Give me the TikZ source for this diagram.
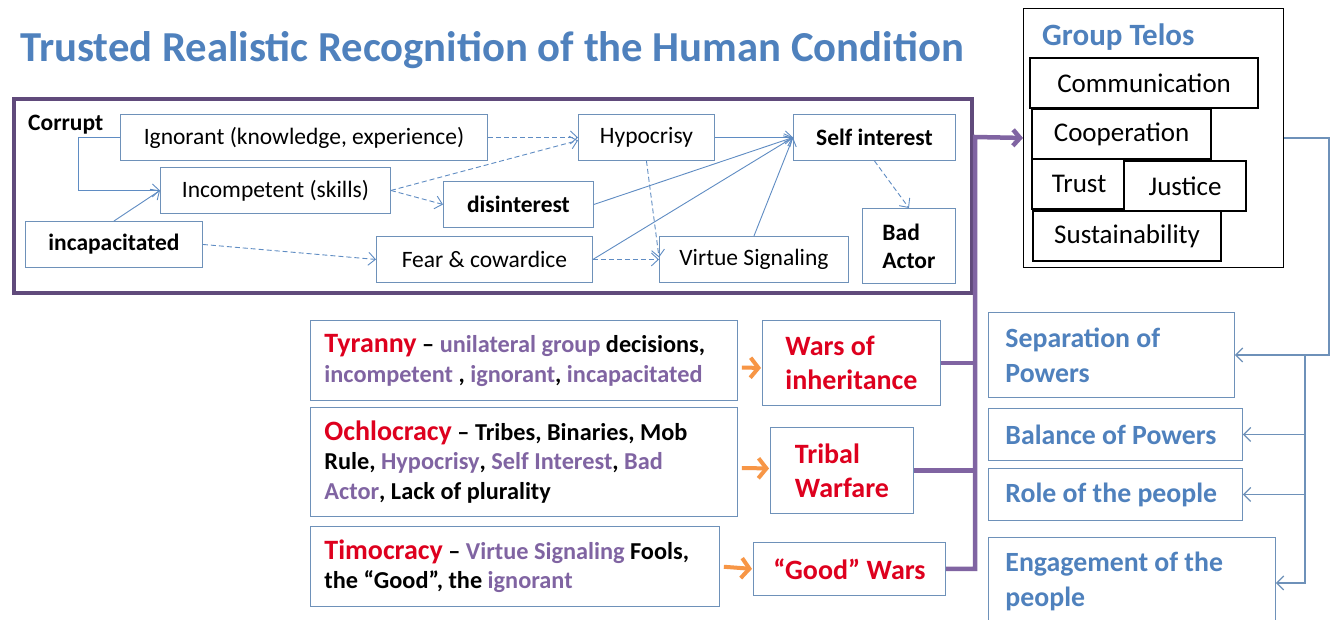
\documentclass[tikz,border=0pt]{standalone}
\usepackage{fontspec}
\setmainfont{Carlito}
\usetikzlibrary{arrows.meta,positioning,calc}

\definecolor{titleblue}{RGB}{79,129,189}
\definecolor{boxblue}{RGB}{110,145,185}
\definecolor{linkblue}{RGB}{95,140,195}
\definecolor{framepurple}{RGB}{96,74,123}
\definecolor{trunkpurple}{RGB}{128,100,162}
\definecolor{warred}{RGB}{222,0,30}
\definecolor{warorange}{RGB}{247,150,70}

\tikzset{
  box/.style={draw=boxblue, line width=0.9pt, fill=white, inner sep=0pt,
    minimum height=46, anchor=north west, font=\fontsize{23.5}{28}\selectfont},
  boldbox/.style={box, font=\fontsize{23.5}{28}\selectfont\bfseries},
  solidlink/.style={draw=linkblue, line width=0.9pt, -{Straight Barb[length=7pt,width=13pt]}},
  dashlink/.style={solidlink, dash pattern=on 5pt off 3pt},
  telosbox/.style={draw=black, line width=2.2pt, fill=white, inner sep=0pt,
    minimum height=50, anchor=north west, font=\fontsize{27}{32}\selectfont},
  govbox/.style={draw=boxblue, line width=0.9pt, inner xsep=14, inner ysep=0,
    align=flush left, anchor=north west, font=\fontsize{24.3}{29.5}\selectfont\bfseries},
  warbox/.style={draw=boxblue, line width=0.9pt, inner sep=0pt, align=flush left,
    anchor=north west, text=warred, font=\fontsize{28}{34}\selectfont\bfseries},
  rightbox/.style={draw=boxblue, line width=0.9pt, inner xsep=17, inner ysep=0,
    align=flush left, anchor=north west, text=titleblue, font=\fontsize{27.8}{35}\selectfont\bfseries},
  orangearrow/.style={draw=warorange, line width=4pt, shorten <=4pt, shorten >=1pt,
    -{Straight Barb[length=8pt,width=20pt]}},
  trunk/.style={draw=trunkpurple, line width=4.5pt},
  teloslink/.style={draw=boxblue, line width=1.2pt, -{Straight Barb[length=7pt,width=14pt]}}
}
\newcommand{\gov}[1]{{\fontsize{28}{29.5}\selectfont\color{warred}#1}}
\newcommand{\pur}[1]{\textcolor{trunkpurple}{#1}}

\begin{document}
\begin{tikzpicture}[x=1pt, y=-1pt]
\useasboundingbox[fill=white] (0,0) rectangle (1336,619);

% title
\node[anchor=west, inner sep=0pt, text=titleblue, font=\fontsize{42.7}{48}\selectfont\bfseries]
  (title) at (20,50) {Trusted Realistic Recognition of the Human Condition};

% the corrupt frame
\node[draw=framepurple, line width=4pt, fill=white, minimum width=958, minimum height=194,
  anchor=north west] (corruptframe) at (12,97) {};
\node[anchor=west, inner sep=0pt, font=\fontsize{23.5}{28}\selectfont\bfseries] (corrupt) at (28,125) {Corrupt};

\node[box, minimum width=367] (ignorant) at (120,114) {Ignorant (knowledge, experience)};
\node[box, minimum width=230] (incompetent) at (160,167) {Incompetent (skills)};
\node[boldbox, minimum width=150] (disinterest) at (443,181) {disinterest};
\node[boldbox, minimum width=177] (incapacitated) at (25,221) {incapacitated};
\node[box, minimum width=216] (fear) at (376,236) {Fear \& cowardice};
\node[box, minimum width=136] (hypocrisy) at (578,114) {Hypocrisy};
\node[boldbox, minimum width=162] (selfinterest) at (793,114) {Self interest};
\node[box, minimum width=189] (virtue) at (659,236) {Virtue Signaling};
\node[boldbox, minimum width=93, minimum height=75, align=flush left] (badactor) at (862,208) {Bad\\Actor};

\draw[solidlink] (ignorant.west) -- ++(-42,0) |- (incompetent.west);
\draw[solidlink] (incapacitated.north) -- (incompetent.west);
\draw[dashlink] (ignorant.east) -- (hypocrisy.west);
\draw[dashlink] (incompetent.east) -- ($(hypocrisy.west)+(0,3)$);
\draw[dashlink] (incompetent.east) -- (disinterest.west);
\draw[dashlink] (incapacitated.east) -- (fear.west);
\draw[solidlink] (hypocrisy.east) -- (selfinterest.west);
\draw[solidlink] (disinterest.east) -- (selfinterest.west);
\draw[solidlink] (fear.east) -- (selfinterest.west);
\draw[dashlink] (fear.east) -- (virtue.west);
\draw[dashlink] (hypocrisy.south) -- ($(virtue.west)+(0,-2)$);
\draw[solidlink] (virtue.north) -- (selfinterest.west);
\draw[dashlink] (selfinterest.south) -- (badactor.north);

% group telos
\node[draw=black, line width=0.9pt, fill=white, minimum width=260, minimum height=259,
  anchor=north west] (telos) at (1023,8) {};
\node[anchor=west, inner sep=0pt, text=titleblue, font=\fontsize{31}{36}\selectfont\bfseries]
  (telostitle) at (1042,37) {Group Telos};
\node[telosbox, minimum width=228] (communication) at (1029,57) {Communication};
\node[telosbox, minimum width=179] (cooperation) at (1031,108) {Cooperation};
\node[telosbox, minimum width=94] (trust) at (1031,158) {Trust};
\node[telosbox, minimum width=122] (justice) at (1123,160) {Justice};
\node[telosbox, minimum width=188] (sustainability) at (1032,210) {Sustainability};

% forms of government
\node[govbox, text width=399, minimum height=80] (tyranny) at (310,320)
  {\gov{Tyranny} -- \pur{unilateral group} decisions,\\
   \pur{incompetent} , \pur{ignorant}, \pur{incapacitated}};
\node[govbox, text width=399, minimum height=109] (ochlocracy) at (310,407)
  {\gov{Ochlocracy} -- Tribes, Binaries, Mob\\
   Rule, \pur{Hypocrisy}, \pur{Self Interest}, \pur{Bad}\\
   \pur{Actor}, Lack of plurality};
\node[govbox, text width=381, minimum height=80] (timocracy) at (310,526)
  {\gov{Timocracy} -- \pur{Virtue Signaling} Fools,\\
   the “Good”, the \pur{ignorant}};

\node[warbox, minimum width=178, minimum height=85] (inheritance) at (762,320) {Wars of\\inheritance};
\node[warbox, minimum width=143, minimum height=86] (tribal) at (770,427) {Tribal\\Warfare};
\node[warbox, minimum width=192, minimum height=53] (goodwars) at (753,542) {“Good” Wars};

\draw[orangearrow] ($(tyranny.east)+(0,7)$) -- ($(inheritance.west)+(0,5)$);
\draw[orangearrow] ($(ochlocracy.east)+(0,6)$) -- ($(tribal.west)+(0,-2)$);
\draw[orangearrow] (timocracy.east) -- (goodwars.west);

% purple trunk into the telos
\coordinate (bend) at (975,137);
\draw[trunk, -{Straight Barb[length=7pt,width=16pt]}] (goodwars.east) -| (bend) -- (telos.west);
\draw[trunk] (inheritance.east) -- (inheritance.east -| bend);
\draw[trunk] (tribal.east) -- (tribal.east -| bend);

% safeguards
\node[rightbox, text width=212, minimum height=85] (separation) at (988,312) {Separation of\\Powers};
\node[rightbox, text width=220, minimum height=52] (balance) at (988,408) {Balance of Powers};
\node[rightbox, text width=220, minimum height=52] (role) at (988,468) {Role of the people};
\node[rightbox, text width=253, minimum height=87] (engagement) at (988,537) {Engagement of the\\people};

\coordinate (rail) at (1305,355);
\draw[teloslink] (telos.east) -- ++(45,0) |- (separation.east);
\draw[teloslink] (rail) |- ($(engagement.east)+(0,2)$);
\draw[teloslink] (rail |- balance.east) -- (balance.east);
\draw[teloslink] (rail |- role.east) -- (role.east);
\end{tikzpicture}
\end{document}
